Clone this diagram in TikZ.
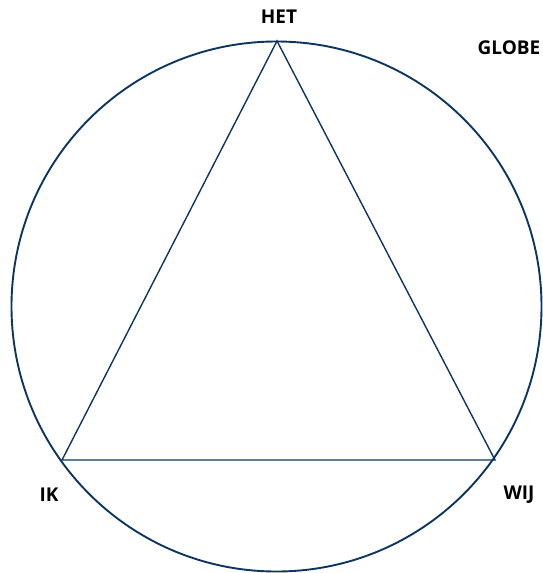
\documentclass[tikz,border=0pt]{standalone}
\usepackage{fontspec}
\setmainfont{Open Sans}
\definecolor{navy}{RGB}{12,54,96}
\begin{document}
\begin{tikzpicture}[x=1pt,y=-1pt,
  lbl/.style={font=\fontsize{19}{22}\selectfont\bfseries, text=black, inner sep=0pt, anchor=center},
  edge/.style={draw=navy, line width=1.4pt}]
\useasboundingbox (0,0) rectangle (542,573);
\coordinate (c) at (276.5,306.5);
\draw[navy, line width=1.9pt] (c) circle[radius=265];
\coordinate (top) at (277,41);
\coordinate (left) at (62,460);
\coordinate (right) at (495,460);
\draw[edge] (top) -- (left) -- (right) -- cycle;
\node[lbl] (het) at (279,17) {HET};
\node[lbl] (globe) at (509,48) {GLOBE};
\node[lbl] (ik) at (49,495) {IK};
\node[lbl] (wij) at (519,495) {WIJ};
\end{tikzpicture}
\end{document}
